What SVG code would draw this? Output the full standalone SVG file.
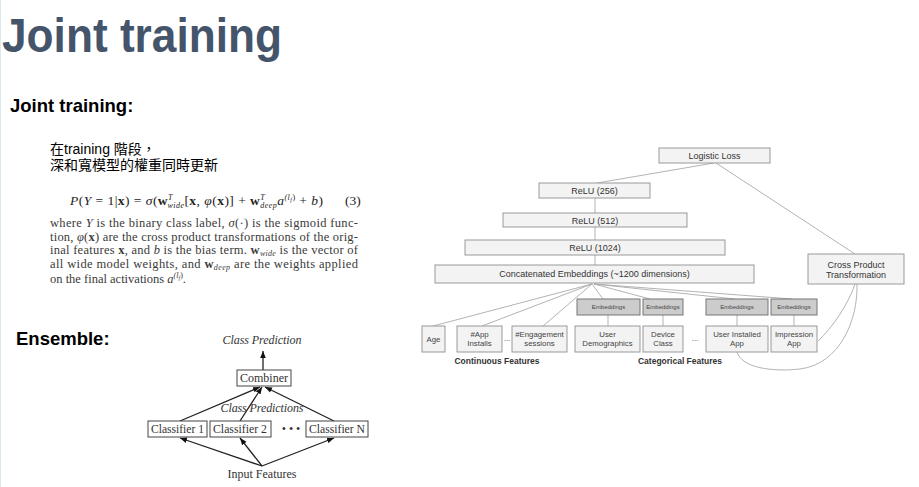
<svg xmlns="http://www.w3.org/2000/svg" width="919" height="487" viewBox="0 0 919 487">
<defs>
<marker id="arr" viewBox="0 0 10 10" refX="10" refY="5" markerWidth="7" markerHeight="7" orient="auto-start-reverse" markerUnits="userSpaceOnUse">
<path d="M0,1 L10,5 L0,9 z" fill="#111"/>
</marker>
</defs>
<style>
.title{font-family:"Liberation Sans",Arial,sans-serif;font-weight:bold;fill:#44546a}
.head{font-family:"Liberation Sans",Arial,sans-serif;font-weight:bold;fill:#000;font-size:18.5px}
.cjk{font-family:"Liberation Sans","Noto Sans CJK TC",sans-serif;font-size:14px;fill:#000}
.math{font-family:"Liberation Serif","Times New Roman",serif;font-size:13.5px;fill:#222}
.para{font-family:"Liberation Serif","Times New Roman",serif;font-size:12.5px;fill:#3a3a3a}
.it{font-style:italic}
.bf{font-weight:bold}
.ens{font-family:"Liberation Serif","Times New Roman",serif;font-size:12px;fill:#333}
.ebox{fill:#fff;stroke:#444;stroke-width:1}
.eline{stroke:#222;stroke-width:1.3;fill:none}
.wbox{fill:#f3f3f3;stroke:#999;stroke-width:1}
.embbox{fill:#cccccc;stroke:#777;stroke-width:1}
.wl{stroke:#aaa;stroke-width:0.9;fill:none}
.wt{font-family:"Liberation Sans",Arial,sans-serif;font-size:9px;fill:#333;text-anchor:middle}
.ft{font-family:"Liberation Sans",Arial,sans-serif;font-size:7.8px;fill:#444;text-anchor:middle}
.et{font-family:"Liberation Sans",Arial,sans-serif;font-size:6px;fill:#444;text-anchor:middle}
.lab{font-family:"Liberation Sans",Arial,sans-serif;font-size:8.5px;font-weight:bold;fill:#333;text-anchor:middle}
</style>
<rect width="919" height="487" fill="#fff"/>
<line x1="0.5" y1="0" x2="0.5" y2="487" stroke="#dce9f3" stroke-width="1"/>

<text class="title" x="2" y="52" font-size="48" textLength="280" lengthAdjust="spacingAndGlyphs">Joint training</text>
<text class="head" x="10" y="112">Joint training:</text>

<text class="cjk" x="50" y="154">在training 階段，</text>
<text class="cjk" x="50" y="170">深和寬模型的權重同時更新</text>

<text class="math" x="70" y="205" textLength="253" lengthAdjust="spacing"><tspan class="it">P</tspan>(<tspan class="it">Y</tspan> = 1|<tspan class="bf">x</tspan>) = <tspan class="it">σ</tspan>(<tspan class="bf">w</tspan><tspan font-size="8" class="it" dy="-5">T</tspan><tspan font-size="8" class="it" dx="-5" dy="8">wide</tspan><tspan dy="-3">[</tspan><tspan class="bf">x</tspan>, <tspan class="it">φ</tspan>(<tspan class="bf">x</tspan>)] + <tspan class="bf">w</tspan><tspan font-size="8" class="it" dy="-5">T</tspan><tspan font-size="8" class="it" dx="-5" dy="8">deep</tspan><tspan class="it" dy="-3">a</tspan><tspan font-size="8" class="it" dy="-5">(l</tspan><tspan font-size="6" class="it" dy="2">f</tspan><tspan font-size="8" dy="-2">)</tspan><tspan dy="5"> + </tspan><tspan class="it">b</tspan>)</text>
<text class="math" x="345" y="205">(3)</text>

<text class="para" x="50" y="227" textLength="308" lengthAdjust="spacing">where <tspan class="it">Y</tspan> is the binary class label, <tspan class="it">σ</tspan>(·) is the sigmoid func-</text>
<text class="para" x="50" y="241" textLength="308" lengthAdjust="spacing">tion, <tspan class="it">φ</tspan>(<tspan class="bf">x</tspan>) are the cross product transformations of the orig-</text>
<text class="para" x="50" y="254" textLength="308" lengthAdjust="spacing">inal features <tspan class="bf">x</tspan>, and <tspan class="it">b</tspan> is the bias term. <tspan class="bf">w</tspan><tspan class="it" font-size="8" dy="2">wide</tspan><tspan dy="-2"> is the vector of</tspan></text>
<text class="para" x="50" y="268" textLength="308" lengthAdjust="spacing">all wide model weights, and <tspan class="bf">w</tspan><tspan class="it" font-size="8" dy="2">deep</tspan><tspan dy="-2"> are the weights applied</tspan></text>
<text class="para" x="50" y="283">on the final activations <tspan class="it">a</tspan><tspan class="it" font-size="8" dy="-5">(l</tspan><tspan class="it" font-size="6" dy="2">f</tspan><tspan font-size="8" dy="-2">)</tspan><tspan dy="5">.</tspan></text>

<text class="head" x="16" y="345">Ensemble:</text>

<g id="ensemble-connectors">
<line class="eline" x1="263" y1="370" x2="263" y2="351" marker-end="url(#arr)"/>
<line class="eline" x1="180" y1="421" x2="260" y2="387" marker-end="url(#arr)"/>
<line class="eline" x1="240" y1="421" x2="262" y2="387" marker-end="url(#arr)"/>
<line class="eline" x1="334" y1="421" x2="265" y2="387" marker-end="url(#arr)"/>
<line class="eline" x1="262" y1="466" x2="180" y2="438" marker-end="url(#arr)"/>
<line class="eline" x1="262" y1="466" x2="240" y2="438" marker-end="url(#arr)"/>
<line class="eline" x1="262" y1="466" x2="334" y2="438" marker-end="url(#arr)"/>
</g>
<text class="ens it" x="262" y="344" text-anchor="middle" font-size="11" textLength="79" lengthAdjust="spacing">Class Prediction</text>
<g id="combiner"><rect class="ebox" x="237" y="370" width="54" height="16"/><text class="ens" x="264" y="382" text-anchor="middle">Combiner</text></g>
<text class="ens it" x="262" y="412" text-anchor="middle" font-size="11.5" textLength="83" lengthAdjust="spacing">Class Predictions</text>
<g id="classifier1"><rect class="ebox" x="148" y="421" width="59" height="16"/><text class="ens" x="151" y="433" textLength="53" lengthAdjust="spacingAndGlyphs">Classifier 1</text></g>
<g id="classifier2"><rect class="ebox" x="210" y="421" width="61" height="16"/><text class="ens" x="213" y="433" textLength="54" lengthAdjust="spacingAndGlyphs">Classifier 2</text></g>
<text class="ens" x="291" y="433" text-anchor="middle" font-size="12">• • •</text>
<g id="classifierN"><rect class="ebox" x="306" y="421" width="62" height="16"/><text class="ens" x="309" y="433" textLength="56" lengthAdjust="spacingAndGlyphs">Classifier N</text></g>
<text class="ens" x="262" y="478" text-anchor="middle" font-size="11">Input Features</text>

<g id="connectors">
<line class="wl" x1="714" y1="163" x2="597" y2="183"/>
<line class="wl" x1="716" y1="163" x2="855" y2="254"/>
<line class="wl" x1="595" y1="198" x2="595" y2="213"/>
<line class="wl" x1="595" y1="227" x2="595" y2="240"/>
<line class="wl" x1="595" y1="255" x2="595" y2="265"/>
<line class="wl" x1="592" y1="284" x2="433" y2="326"/>
<line class="wl" x1="592" y1="284" x2="482" y2="326"/>
<line class="wl" x1="592" y1="284" x2="543" y2="326"/>
<line class="wl" x1="592" y1="284" x2="603" y2="299"/>
<line class="wl" x1="594" y1="284" x2="650" y2="299"/>
<line class="wl" x1="594" y1="284" x2="735" y2="299"/>
<line class="wl" x1="594" y1="284" x2="792" y2="299"/>
<line class="wl" x1="608" y1="315" x2="608" y2="326"/>
<line class="wl" x1="663" y1="315" x2="663" y2="326"/>
<line class="wl" x1="737" y1="315" x2="737" y2="326"/>
<line class="wl" x1="794" y1="315" x2="794" y2="326"/>
<path class="wl" d="M855,284 C848,305 832,328 818,341"/>
<path class="wl" d="M737,352 C742,368 772,372 800,369 C840,364 858,320 857,284"/>
</g>

<g id="logistic-loss"><rect class="wbox" x="659" y="148" width="111" height="15"/><text class="wt" x="714.5" y="159">Logistic Loss</text></g>
<g id="relu256"><rect class="wbox" x="539" y="183" width="111" height="15"/><text class="wt" x="594.5" y="194">ReLU (256)</text></g>
<g id="relu512"><rect class="wbox" x="503" y="213" width="184" height="14"/><text class="wt" x="595" y="223.5">ReLU (512)</text></g>
<g id="relu1024"><rect class="wbox" x="465" y="240" width="260" height="15"/><text class="wt" x="595" y="251">ReLU (1024)</text></g>
<g id="concat"><rect class="wbox" x="435" y="265" width="319" height="18"/><text class="wt" x="594.5" y="277">Concatenated Embeddings (~1200 dimensions)</text></g>
<g id="cross-product"><rect class="wbox" x="808" y="254" width="96" height="30"/><text class="wt" x="856" y="268">Cross Product</text><text class="wt" x="856" y="278">Transformation</text></g>

<g id="emb1"><rect class="embbox" x="577" y="299" width="63" height="16"/><text class="et" x="608.5" y="309">Embeddings</text></g>
<g id="emb2"><rect class="embbox" x="643" y="299" width="40" height="16"/><text class="et" x="663" y="309">Embeddings</text></g>
<g id="emb3"><rect class="embbox" x="706" y="299" width="62" height="16"/><text class="et" x="737" y="309">Embeddings</text></g>
<g id="emb4"><rect class="embbox" x="771" y="299" width="46" height="16"/><text class="et" x="794" y="309">Embeddings</text></g>

<g id="age"><rect class="wbox" x="422" y="326" width="23" height="26"/><text class="ft" x="433.5" y="342">Age</text></g>
<g id="app-installs"><rect class="wbox" x="457" y="326" width="45" height="26"/><text class="ft" x="479.5" y="337">#App</text><text class="ft" x="479.5" y="346">Installs</text></g>
<text class="ft" x="507" y="341">...</text>
<g id="engagement"><rect class="wbox" x="512" y="326" width="55" height="26"/><text class="ft" x="539.5" y="337">#Engagement</text><text class="ft" x="539.5" y="346">sessions</text></g>
<g id="user-demographics"><rect class="wbox" x="575" y="326" width="65" height="26"/><text class="ft" x="607.5" y="337">User</text><text class="ft" x="607.5" y="346">Demographics</text></g>
<g id="device-class"><rect class="wbox" x="643" y="326" width="40" height="26"/><text class="ft" x="663" y="337">Device</text><text class="ft" x="663" y="346">Class</text></g>
<text class="ft" x="695" y="341">...</text>
<g id="user-installed-app"><rect class="wbox" x="706" y="326" width="62" height="26"/><text class="ft" x="737" y="337">User Installed</text><text class="ft" x="737" y="346">App</text></g>
<g id="impression-app"><rect class="wbox" x="771" y="326" width="46" height="26"/><text class="ft" x="794" y="337">Impression</text><text class="ft" x="794" y="346">App</text></g>

<text class="lab" x="497" y="364">Continuous Features</text>
<text class="lab" x="680" y="364">Categorical Features</text>
</svg>
